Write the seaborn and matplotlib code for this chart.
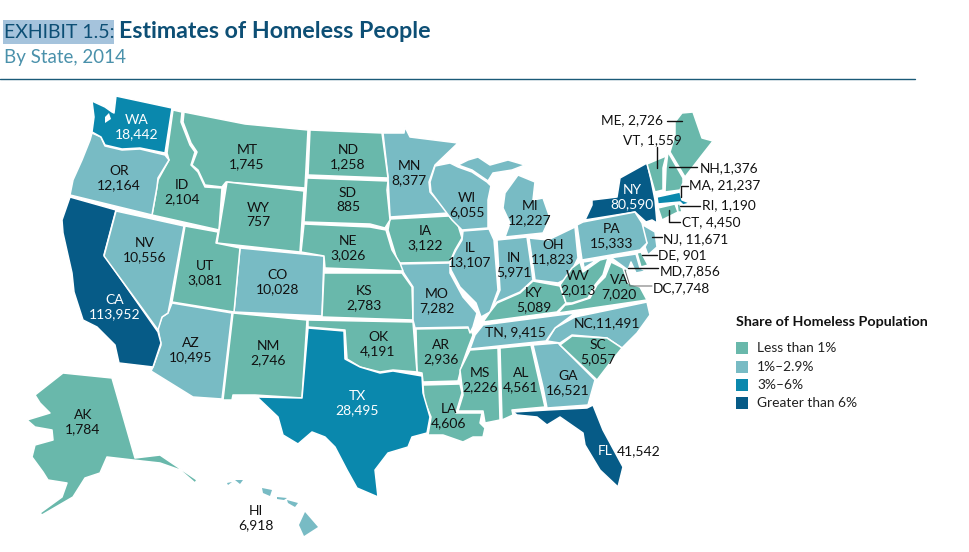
import matplotlib
matplotlib.use("Agg")
import matplotlib.pyplot as plt
import pandas as pd
import seaborn as sns

# 数据
states = ["AK", "AL", "AR", "AZ", "CA", "CO", "CT", "DC", "DE", "FL", "GA", "HI", "IA", "ID", "IL", "IN", "KS",
          "KY", "LA", "MA", "MD", "ME", "MI", "MN", "MO", "MS", "MT", "NC", "ND", "NE", "NH", "NJ", "NM", "NV",
          "NY", "OH", "OK", "OR", "PA", "RI", "SC", "SD", "TN", "TX", "UT", "VA", "VT", "WA", "WI", "WV", "WY"]
homeless = [1784, 4561, 2936, 10495, 113952, 10028, 4450, 7748, 901, 41542, 16521, 6918, 3122, 2104, 13107, 5971,
            2783, 5089, 4606, 21237, 7856, 2726, 12227, 8377, 7282, 2226, 1745, 11491, 1258, 3026, 1376, 11671,
            2746, 10556, 80590, 11823, 4191, 12164, 15333, 1190, 5057, 885, 9415, 28495, 3081, 7020, 1559, 18442,
            6055, 2013, 757]
share_bins = [0, 0, 0, 1, 3, 1, 0, 0, 0, 3, 1, 1, 0, 0, 1, 1,
              0, 0, 0, 2, 1, 0, 1, 1, 1, 0, 0, 1, 0, 0, 0, 1,
              0, 1, 3, 1, 0, 1, 1, 0, 0, 0, 1, 2, 0, 0, 0, 2,
              1, 0, 0]
bin_labels = ["Less than 1%", "1%–2.9%", "3%–6%", "Greater than 6%"]
bin_colors = ["#69b8ab", "#78bbc4", "#0a88ad", "#065b87"]

# 州轮廓 (图片像素坐标)
shapes = {
    "WA": [[(92, 101), (105, 107), (112, 112), (114, 113), (116, 96), (172, 108), (165, 153), (140, 148), (122, 149),
            (105, 145), (101, 137), (92, 132), (94, 117)]],
    "OR": [[(92, 133), (101, 137), (105, 146), (122, 150), (140, 149), (165, 155), (169, 160), (158, 178), (157, 187),
            (152, 215), (70, 195), (73, 180), (82, 160), (90, 140)]],
    "CA": [[(70, 197), (116, 210), (104, 255), (158, 332), (161, 343), (153, 367), (119, 363), (115, 345), (97, 327),
            (83, 320), (74, 292), (72, 273), (63, 233), (62, 220)]],
    "NV": [[(116, 211), (184, 226), (176, 270), (170, 303), (168, 313), (162, 317), (158, 330), (104, 256)]],
    "ID": [[(173, 110), (182, 112), (181, 122), (190, 145), (195, 152), (191, 165), (198, 172), (205, 187), (222, 188),
            (219, 230), (152, 215), (156, 193), (158, 180), (169, 160), (167, 153)]],
    "MT": [[(184, 112), (245, 124), (308, 130), (305, 188), (226, 182), (222, 187), (205, 185), (198, 170), (192, 165),
            (197, 152), (191, 143), (183, 122)]],
    "WY": [[(227, 182), (304, 191), (300, 252), (217, 243)]],
    "ND": [[(310, 130), (382, 133), (388, 178), (308, 175)]],
    "SD": [[(307, 178), (388, 181), (387, 190), (390, 220), (385, 228), (370, 224), (304, 222)]],
    "NE": [[(304, 224), (370, 227), (386, 230), (392, 250), (400, 263), (403, 271), (325, 268), (324, 256), (301, 252)]],
    "MN": [[(383, 133), (404, 133), (405, 127), (410, 137), (458, 143), (435, 165), (429, 182), (430, 192), (448, 213),
            (390, 217), (388, 177)]],
    "IA": [[(390, 219), (449, 216), (458, 225), (462, 238), (455, 250), (450, 262), (398, 263), (388, 230)]],
    "WI": [[(435, 166), (450, 163), (458, 167), (472, 172), (487, 182), (490, 185), (493, 176), (488, 200), (488, 228),
            (462, 230), (452, 220), (431, 192), (430, 182)]],
    "MI": [[(503, 208), (505, 193), (518, 175), (535, 182), (533, 200), (543, 198), (550, 218), (543, 233), (505, 237),
            (510, 223)],
           [(458, 165), (468, 160), (478, 157), (490, 165), (508, 160), (525, 165), (512, 170), (493, 173), (488, 181),
            (472, 170)]],
    "IL": [[(463, 231), (489, 229), (494, 240), (498, 290), (490, 312), (481, 317), (476, 303), (460, 287), (451, 270),
            (450, 262), (456, 250), (462, 240)]],
    "IN": [[(497, 240), (527, 237), (531, 265), (533, 280), (520, 292), (497, 302), (491, 311), (500, 290)]],
    "OH": [[(529, 238), (548, 240), (575, 227), (578, 258), (568, 278), (558, 283), (535, 280), (533, 265)]],
    "MO": [[(398, 264), (450, 263), (450, 273), (463, 297), (477, 313), (473, 327), (470, 333), (468, 327), (415, 328),
            (413, 320), (413, 287), (405, 275), (402, 270)]],
    "KS": [[(324, 273), (402, 273), (412, 287), (413, 320), (322, 317)]],
    "CO": [[(240, 248), (324, 256), (322, 316), (234, 312)]],
    "UT": [[(185, 226), (218, 232), (216, 243), (240, 248), (234, 312), (172, 302)]],
    "AZ": [[(172, 303), (232, 313), (222, 399), (193, 397), (151, 371), (153, 367), (161, 345), (158, 328), (162, 317),
            (168, 313)]],
    "NM": [[(233, 313), (307, 320), (302, 398), (255, 395), (233, 395), (232, 400), (223, 400)]],
    "OK": [[(308, 320), (413, 322), (417, 372), (393, 370), (380, 372), (360, 367), (347, 359), (345, 330), (308, 327)]],
    "TX": [[(308, 328), (344, 331), (345, 359), (360, 367), (380, 373), (393, 371), (422, 376), (423, 393), (430, 417),
            (427, 433), (412, 437), (408, 447), (388, 453), (375, 470), (378, 497), (357, 488), (347, 470), (335, 447),
            (325, 437), (312, 432), (298, 444), (283, 435), (278, 417), (257, 397), (302, 398)]],
    "AR": [[(416, 329), (470, 328), (473, 335), (468, 348), (462, 365), (458, 381), (423, 382), (422, 373), (417, 372)]],
    "LA": [[(423, 385), (460, 384), (462, 393), (456, 413), (482, 413), (480, 423), (485, 428), (483, 437), (473, 437),
            (463, 442), (443, 435), (428, 435), (431, 417), (424, 400)]],
    "MS": [[(470, 350), (498, 348), (500, 420), (485, 423), (483, 411), (458, 411), (463, 395), (460, 370)]],
    "AL": [[(500, 348), (531, 345), (545, 407), (512, 410), (513, 415), (502, 420)]],
    "GA": [[(533, 345), (558, 343), (595, 380), (588, 405), (547, 408), (543, 387)]],
    "FL": [[(513, 412), (547, 410), (587, 408), (593, 405), (603, 430), (623, 467), (618, 487), (600, 470), (585, 445),
            (583, 433), (560, 417), (547, 425), (537, 417), (517, 415)]],
    "SC": [[(560, 345), (572, 336), (607, 338), (622, 348), (610, 363), (597, 380)]],
    "NC": [[(575, 317), (647, 302), (650, 315), (637, 333), (622, 348), (607, 338), (572, 335), (560, 343), (547, 341),
            (555, 328)]],
    "TN": [[(483, 325), (575, 313), (555, 328), (546, 341), (470, 349), (475, 335)]],
    "KY": [[(483, 322), (490, 312), (497, 303), (520, 293), (533, 281), (560, 286), (566, 303), (557, 312)]],
    "WV": [[(560, 285), (572, 268), (580, 262), (583, 272), (600, 260), (608, 258), (603, 275), (595, 285), (588, 298),
            (572, 303), (566, 303)]],
    "VA": [[(565, 305), (572, 304), (590, 298), (597, 285), (605, 277), (611, 262), (623, 268), (628, 283), (640, 287),
            (647, 300), (558, 313)]],
    "PA": [[(577, 225), (583, 222), (635, 212), (642, 223), (647, 243), (640, 250), (582, 260)]],
    "NY": [[(585, 220), (592, 205), (592, 200), (617, 197), (620, 178), (647, 163), (651, 180), (655, 200), (657, 223),
            (652, 220), (646, 222), (635, 212)]],
    "NJ": [[(643, 225), (655, 232), (657, 247), (648, 255), (645, 247), (647, 243), (642, 233)]],
    "DE": [[(637, 253), (641, 252), (648, 265), (641, 267)]],
    "MD": [[(583, 262), (636, 254), (640, 268), (646, 271), (636, 273), (631, 262), (628, 270), (613, 259), (600, 258),
            (584, 268)]],
    "DC": [[(624, 269), (627, 269), (627, 272), (624, 272)]],
    "VT": [[(647, 164), (666, 156), (663, 168), (663, 190), (655, 192)]],
    "NH": [[(668, 152), (683, 178), (683, 183), (680, 190), (665, 192), (666, 168)]],
    "ME": [[(675, 122), (682, 113), (693, 112), (702, 138), (713, 141), (702, 155), (685, 177), (670, 152), (675, 135)]],
    "MA": [[(657, 197), (680, 192), (682, 200), (690, 203), (683, 205), (680, 202), (658, 204)]],
    "CT": [[(658, 208), (675, 204), (678, 212), (662, 220)]],
    "RI": [[(677, 204), (680, 204), (682, 212), (678, 212)]],
    "AK": [[(35, 395), (63, 373), (112, 378), (135, 458), (160, 455), (197, 480), (195, 483), (180, 470), (160, 463),
            (133, 460), (107, 457), (100, 473), (85, 478), (73, 497), (42, 515), (40, 513), (62, 497), (67, 483),
            (48, 480), (43, 472), (32, 457), (35, 445), (53, 440), (52, 430), (35, 427), (27, 420), (50, 413), (40, 403)]],
    "HI": [[(305, 512), (318, 527), (304, 536), (299, 525)], [(287, 500), (298, 503), (295, 507), (288, 503)],
           [(262, 488), (272, 490), (270, 496), (263, 493)], [(235, 480), (243, 480), (240, 484)],
           [(227, 483), (232, 482), (228, 485)], [(277, 497), (287, 498), (284, 500), (277, 499)]],
}
puget_sound = [(105, 117), (109, 113), (111, 119), (105, 123)]

# 州内标注: 文字中心, 颜色
inner_labels = {
    "WA": (137, 127, "white"), "OR": (119, 178, "k"), "MT": (247, 157, "k"), "ND": (348, 157, "k"),
    "MN": (409, 173, "k"), "ID": (182, 192, "k"), "SD": (348, 200, "k"), "WY": (258, 215, "k"),
    "NE": (348, 248, "k"), "IA": (425, 238, "k"), "WI": (467, 205, "k"), "MI": (530, 213, "k"),
    "NV": (145, 250, "k"), "UT": (205, 273, "k"), "CO": (278, 282, "k"), "KS": (364, 298, "k"),
    "MO": (437, 301, "k"), "IL": (470, 255, "k"), "IN": (514, 265, "k"), "OH": (553, 252, "k"),
    "PA": (612, 236, "k"), "NY": (632, 197, "white"), "WV": (578, 283, "k"), "KY": (534, 300, "k"),
    "VA": (619, 287, "k"), "AR": (441, 352, "k"), "OK": (378, 344, "k"), "NM": (268, 353, "k"),
    "AZ": (191, 350, "k"), "CA": (115, 307, "white"), "TX": (357, 403, "white"), "AK": (83, 422, "k"),
    "LA": (449, 416, "k"), "HI": (256, 518, "k"), "MS": (480, 380, "k"), "AL": (521, 380, "k"),
    "GA": (568, 383, "k"), "SC": (598, 352, "k"),
}

# 引线标注: 文字, 左端 x, y, 引线
callouts = [
    ("ME, 2,726", 601, 120, [(667, 121), (682, 121)]),
    ("VT, 1,559", 623, 140, [(657, 147), (657, 168)]),
    ("NH,1,376", 700, 168, [(669, 167), (697, 167)]),
    ("MA, 21,237", 689, 185, [(688, 186), (681, 186), (681, 197)]),
    ("RI, 1,190", 702, 205, [(680, 206), (700, 206)]),
    ("CT, 4,450", 682, 222, [(669, 210), (669, 222), (680, 222)]),
    ("NJ, 11,671", 663, 239, [(652, 237), (662, 237)]),
    ("DE, 901", 658, 255, [(642, 255), (657, 255)]),
    ("MD,7,856", 660, 271, [(628, 268), (658, 268)]),
    ("DC,7,748", 653, 288, [(625, 270), (630, 286), (652, 286)]),
]

sns.set_theme(style="white")
plt.rcParams["font.family"] = ["Lato", "DejaVu Sans"]

fig, ax = plt.subplots(figsize=(9.69, 5.52), dpi=100)
fig.subplots_adjust(left=0, right=1, bottom=0, top=1)

for st, b in zip(states, share_bins):
    for poly in shapes[st]:
        ax.fill(*zip(*poly), facecolor=bin_colors[b], edgecolor="none" if st == "HI" else "white",
                linewidth=1.1, joinstyle="round")
ax.fill(*zip(*puget_sound), facecolor="white", edgecolor="none")

# 州内文字
values = dict(zip(states, homeless))
text_kw = dict(ha="center", va="center", fontsize=10, linespacing=1.2)
for st, (x, y, c) in inner_labels.items():
    ax.text(x, y, f"{st}\n{values[st]:,}", color="#111111" if c == "k" else c, **text_kw)
ax.text(515, 332, "TN, 9,415", color="#111111", ha="center", va="center", fontsize=10)
ax.text(607, 323, "NC,11,491", color="#111111", ha="center", va="center", fontsize=10)
ax.text(605, 451, "FL", color="white", ha="center", va="center", fontsize=10)
ax.text(639, 451, "41,542", color="#111111", ha="center", va="center", fontsize=10)

# 引线
for label, x, y, pts in callouts:
    ax.text(x, y, label, color="#111111", ha="left", va="center", fontsize=9.8)
    line_df = pd.DataFrame(pts, columns=["x", "y"])
    sns.lineplot(data=line_df, x="x", y="y", sort=False, estimator=None, ax=ax,
                 color="#666666" if label.startswith("DC") else "#111111",
                 linewidth=0.7 if label.startswith("DC") else 1.0)

# 标题
ax.add_patch(plt.Rectangle((3, 20), 111, 24, facecolor="#a5c3dc", edgecolor="none"))
ax.text(4, 32, "EXHIBIT 1.5:", color="#0d4f75", fontsize=14, ha="left", va="center")
ax.text(119, 31, "Estimates of Homeless People", color="#0d4f75", fontsize=16.7, fontweight="bold",
        ha="left", va="center")
ax.text(4, 57, "By State, 2014", color="#4a91ab", fontsize=13.5, ha="left", va="center")
sns.lineplot(x=[0, 915], y=[78.5, 78.5], color="#1a5a78", linewidth=1.0, ax=ax)

# 图例
legend_df = pd.DataFrame({"x": [742] * 4, "y": [348, 367, 385, 403], "bin": bin_labels})
sns.scatterplot(data=legend_df, x="x", y="y", hue="bin", palette=bin_colors, marker="s", s=72,
                linewidth=0, legend=False, ax=ax)
for label, y in zip(bin_labels, legend_df["y"]):
    ax.text(757, y, label, color="#222222", fontsize=9.9, ha="left", va="center")
ax.text(736, 322, "Share of Homeless Population", color="#111111", fontsize=10.3, fontweight="bold",
        ha="left", va="center")

ax.set_xlim(0, 969)
ax.set_ylim(552, 0)
ax.set_xlabel("")
ax.set_ylabel("")
ax.axis("off")

fig.savefig("out.png", dpi=100)
plt.close(fig)
